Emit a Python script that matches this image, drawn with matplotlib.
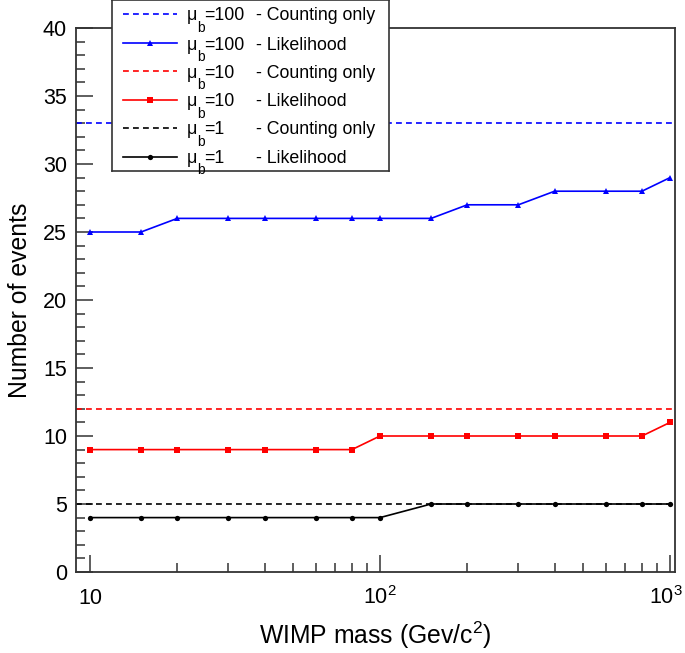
import matplotlib
matplotlib.use('Agg')
import matplotlib.pyplot as plt
from matplotlib.lines import Line2D
from matplotlib.transforms import ScaledTranslation
from matplotlib.ticker import FixedLocator, NullFormatter, MultipleLocator

plt.rcParams['font.family'] = ['Liberation Sans', 'DejaVu Sans']
plt.rcParams['mathtext.fontset'] = 'custom'
plt.rcParams['mathtext.rm'] = 'Liberation Sans'
plt.rcParams['mathtext.it'] = 'Liberation Sans:italic'
plt.rcParams['mathtext.bf'] = 'Liberation Sans:bold'

# ---- data ----
mass = [10, 15, 20, 30, 40, 60, 80, 100, 150, 200, 300, 400, 600, 800, 1000]
lik_mu100 = [25, 25, 26, 26, 26, 26, 26, 26, 26, 27, 27, 28, 28, 28, 29]
lik_mu10 = [9, 9, 9, 9, 9, 9, 9, 10, 10, 10, 10, 10, 10, 10, 11]
lik_mu1 = [4, 4, 4, 4, 4, 4, 4, 4, 5, 5, 5, 5, 5, 5, 5]
count_mu100 = 33
count_mu10 = 12
count_mu1 = 5
x_tick_values = [10, 100, 1000]
x_tick_labels = ['10', r'$\mathregular{10^{2}}$', r'$\mathregular{10^{3}}$']
x_minor_values = [20, 30, 40, 50, 60, 70, 80, 90, 200, 300, 400, 500, 600, 700, 800, 900]
y_tick_values = [0, 5, 10, 15, 20, 25, 30, 35, 40]
legend_numbers = ['100', '100', '10', '10', '1', '1']
legend_kinds = ['- Counting only', '- Likelihood'] * 3

W, H = 685, 653
fig = plt.figure(figsize=(W / 100, H / 100), dpi=100)
ax = fig.add_axes([76 / W, 1 - 572 / H, (675 - 76) / W, (572 - 28) / H])

lw = 1.2
dash = (0, (3.5, 2.5))
styles = [
    dict(color='#0000ff', lw=lw, ls=dash),
    dict(color='#0000ff', lw=lw, ls='-', marker='^', ms=3.8, mew=0),
    dict(color='#ff0000', lw=lw, ls=dash),
    dict(color='#ff0000', lw=lw, ls='-', marker='s', ms=4.2, mew=0),
    dict(color='black', lw=lw, ls=dash),
    dict(color='black', lw=lw, ls='-', marker='o', ms=3.8, mew=0),
]

ax.axhline(count_mu100, **styles[0])
ax.plot(mass, lik_mu100, **styles[1])
ax.axhline(count_mu10, **styles[2])
ax.plot(mass, lik_mu10, **styles[3])
ax.axhline(count_mu1, **styles[4])
ax.plot(mass, lik_mu1, **styles[5])

ax.set_xscale('log')
ax.set_xlim(8.95, 1040)
ax.set_ylim(0, 40)

ax.xaxis.set_major_locator(FixedLocator(x_tick_values))
ax.set_xticklabels(x_tick_labels)
ax.xaxis.set_minor_locator(FixedLocator(x_minor_values))
ax.xaxis.set_minor_formatter(NullFormatter())
ax.set_yticks(y_tick_values)
ax.yaxis.set_minor_locator(MultipleLocator(1))

ax.tick_params(axis='both', which='both', direction='in', top=False, right=False,
               width=1.1, color='#333333')
ax.tick_params(axis='x', which='major', length=12, labelsize=15.5, pad=23)
ax.tick_params(axis='x', which='minor', length=6.5)
ax.tick_params(axis='y', which='major', length=12, labelsize=15.5, pad=6.5)
ax.tick_params(axis='y', which='minor', length=6.5)
xlabels = ax.get_xticklabels()
for lbl in xlabels:
    lbl.set_verticalalignment('baseline')
xlabels[-1].set_transform(xlabels[-1].get_transform()
                          + ScaledTranslation(-0.04, 0, fig.dpi_scale_trans))

for sp in ax.spines.values():
    sp.set_linewidth(1.3)
    sp.set_color('#333333')

ax.set_xlabel(r'WIMP mass (Gev/c$\mathregular{^{2}}$)', fontsize=17.8)
ax.xaxis.set_label_coords(0.5, -(635 - 572) / (572 - 28))
ax.xaxis.label.set_verticalalignment('center')
ax.set_ylabel('Number of events', fontsize=17.8)
ax.yaxis.set_label_coords(-(76 - 20) / (675 - 76), 0.5)
ax.yaxis.label.set_verticalalignment('center')

# ---- legend (drawn in pixel-like coordinates) ----
lx0, lx1, ly0, ly1 = 112, 389, 0, 171
lax = fig.add_axes([lx0 / W, 1 - ly1 / H, (lx1 - lx0) / W, (ly1 - ly0) / H])
lax.set_xlim(lx0, lx1)
lax.set_ylim(ly1, ly0)
lax.set_xticks([])
lax.set_yticks([])
lax.set_facecolor('white')
for sp in lax.spines.values():
    sp.set_linewidth(1.2)
    sp.set_color('#333333')

rows = [14, 43, 71, 99.5, 128, 156.5]
fs = 12.8
for yrow, st, num, kind in zip(rows, styles, legend_numbers, legend_kinds):
    s = dict(st)
    marker = s.pop('marker', None)
    ms = s.pop('ms', None)
    s.pop('mew', None)
    lax.add_line(Line2D([123, 177], [yrow, yrow], **s))
    if marker:
        lax.add_line(Line2D([150], [yrow], marker=marker, ms=ms, mew=0,
                            color=s['color'], ls='none'))
    base = yrow + 6.5
    lax.text(187, base, 'μ', fontsize=fs, va='baseline', ha='left')
    lax.text(197.5, base + 11.5, 'b', fontsize=fs * 0.78, va='baseline', ha='left')
    lax.text(204.5, base, '=' + num, fontsize=fs, va='baseline', ha='left')
    lax.text(256, base, kind, fontsize=fs, va='baseline', ha='left')

fig.savefig('out.png', dpi=100)
